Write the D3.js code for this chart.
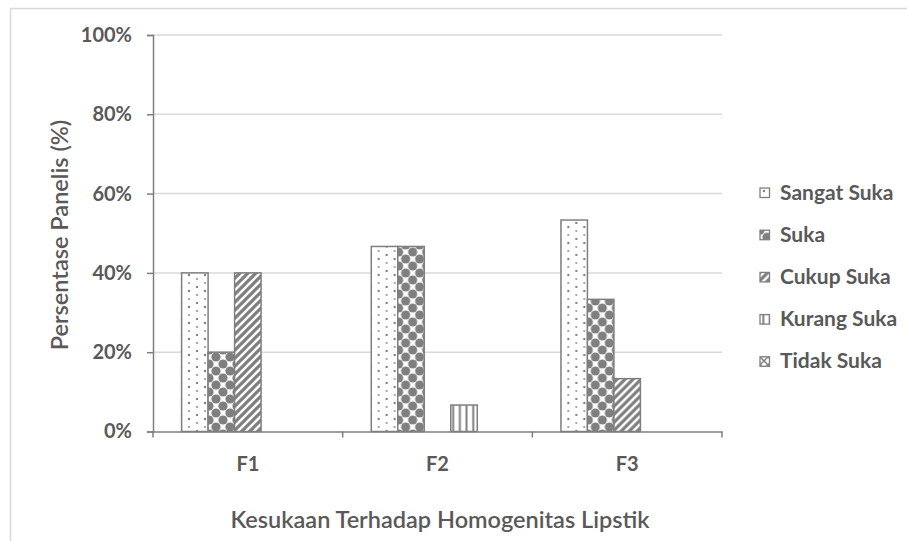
<!DOCTYPE html>
<html>
<head>
<meta charset="utf-8">
<script src="https://cdn.jsdelivr.net/npm/d3@7"></script>
<style>
  html, body { margin: 0; padding: 0; background: #fff; }
  text { font-family: Lato, "Open Sans", sans-serif; font-weight: bold; fill: #595959; }
</style>
</head>
<body>
<svg id="chart" width="907" height="541"></svg>
<script>
const categories = ["F1", "F2", "F3"];
const seriesNames = ["Sangat Suka", "Suka", "Cukup Suka", "Kurang Suka", "Tidak Suka"];
const sangatSuka = [40, 46.67, 53.33];
const suka = [20, 46.67, 33.33];
const cukupSuka = [40, 0, 13.33];
const kurangSuka = [0, 6.67, 0];
const tidakSuka = [0, 0, 0];
const yTicks = [0, 20, 40, 60, 80, 100];
const xTitle = "Kesukaan Terhadap Homogenitas Lipstik";
const yTitle = "Persentase Panelis (%)";

const seriesValues = [sangatSuka, suka, cukupSuka, kurangSuka, tidakSuka];
const grey = "#7f7f7f";

const svg = d3.select("#chart");
const defs = svg.append("defs");

// Patterns
const p0 = defs.append("pattern").attr("id", "pat0").attr("patternUnits", "userSpaceOnUse")
  .attr("width", 16).attr("height", 16);
p0.append("rect").attr("width", 16).attr("height", 16).attr("fill", "#fff");
[[4, 3, 1.2], [12, 7, 0.9], [4, 11, 0.9], [12, 15, 1.2]].forEach(d =>
  p0.append("circle").attr("cx", d[0]).attr("cy", d[1]).attr("r", d[2]).attr("fill", grey));

const p1 = defs.append("pattern").attr("id", "pat1").attr("patternUnits", "userSpaceOnUse")
  .attr("width", 14).attr("height", 14);
p1.append("rect").attr("width", 14).attr("height", 14).attr("fill", "#fff");
[[0, 0], [14, 0], [0, 14], [14, 14], [7, 7]].forEach(d =>
  p1.append("circle").attr("cx", d[0]).attr("cy", d[1]).attr("r", 4.6).attr("fill", grey));

const p2 = defs.append("pattern").attr("id", "pat2").attr("patternUnits", "userSpaceOnUse")
  .attr("width", 8).attr("height", 8);
p2.append("rect").attr("width", 8).attr("height", 8).attr("fill", "#fff");
p2.append("path").attr("d", "M-2,10 L10,-2 M-2,2 L2,-2 M6,10 L10,6")
  .attr("stroke", grey).attr("stroke-width", 3.2);

const p3 = defs.append("pattern").attr("id", "pat3").attr("patternUnits", "userSpaceOnUse")
  .attr("width", 6.7).attr("height", 8);
p3.append("rect").attr("width", 6.7).attr("height", 8).attr("fill", "#fff");
p3.append("rect").attr("x", 2.3).attr("width", 2).attr("height", 8).attr("fill", grey);

const p4 = defs.append("pattern").attr("id", "pat4").attr("patternUnits", "userSpaceOnUse")
  .attr("width", 8).attr("height", 8);
p4.append("rect").attr("width", 8).attr("height", 8).attr("fill", "#fff");
p4.append("path").attr("d", "M0,0 L8,8 M8,0 L0,8").attr("stroke", grey).attr("stroke-width", 1.5);

const patIds = ["pat0", "pat1", "pat2", "pat3", "pat4"];

// Outer frame (top and left edges)
svg.append("path").attr("d", "M10.5,541 L10.5,8.5 L907,8.5")
  .attr("fill", "none").attr("stroke", "#d9d9d9").attr("stroke-width", 1.5);

const plot = { left: 153, right: 722, top: 35, bottom: 431.5 };

const x0 = d3.scaleBand().domain(categories).range([plot.left, plot.right]).paddingInner(0).paddingOuter(0);
const x1 = d3.scaleBand().domain(seriesNames).range([0, x0.bandwidth()]).paddingInner(0).paddingOuter(1.08);
const y = d3.scaleLinear().domain([0, 100]).range([plot.bottom, plot.top]);

// Gridlines
svg.append("g").selectAll("line").data(yTicks.filter(t => t > 0)).join("line")
  .attr("x1", plot.left).attr("x2", plot.right)
  .attr("y1", d => y(d)).attr("y2", d => y(d))
  .attr("stroke", "#d9d9d9").attr("stroke-width", 1.5);

// Bars
const groups = svg.append("g").selectAll("g").data(categories).join("g")
  .attr("transform", d => `translate(${x0(d)},0)`);
groups.selectAll("rect")
  .data((c, ci) => seriesNames.map((s, si) => ({ s, si, v: seriesValues[si][ci] })).filter(d => d.v > 0))
  .join("rect")
  .attr("x", d => x1(d.s))
  .attr("width", x1.bandwidth())
  .attr("y", d => y(d.v))
  .attr("height", d => y(0) - y(d.v))
  .attr("fill", d => `url(#${patIds[d.si]})`)
  .attr("stroke", grey).attr("stroke-width", 1.5);

// Y axis
const yAxis = svg.append("g").attr("transform", `translate(${plot.left},0)`)
  .call(d3.axisLeft(y).tickValues(yTicks).tickSize(6).tickPadding(15).tickFormat(d => d + "%"));
yAxis.select(".domain").attr("stroke", grey).attr("stroke-width", 1.5);
yAxis.selectAll(".tick line").attr("stroke", grey).attr("stroke-width", 1.5);
yAxis.selectAll(".tick text").style("font-size", "20px").style("font-family", "Lato").attr("fill", "#595959");

// X axis
const xAxis = svg.append("g").attr("transform", `translate(0,${plot.bottom})`)
  .call(d3.axisBottom(x0).tickSize(0).tickPadding(25));
xAxis.select(".domain").attr("stroke", grey).attr("stroke-width", 1.5);
xAxis.selectAll(".tick text").style("font-size", "20px").style("font-family", "Lato").attr("fill", "#595959");
// category boundary ticks
const bounds = categories.map(c => x0(c)).concat([x0(categories[categories.length - 1]) + x0.bandwidth()]);
xAxis.append("g").selectAll("line").data(bounds).join("line")
  .attr("x1", d => d).attr("x2", d => d).attr("y1", 0).attr("y2", 6)
  .attr("stroke", grey).attr("stroke-width", 1.5);

// Axis titles
svg.append("text").attr("x", 440).attr("y", 528).attr("text-anchor", "middle")
  .style("font-size", "23.5px").style("font-weight", "600").text(xTitle);
svg.append("text").attr("transform", "translate(68,235) rotate(-90)").attr("text-anchor", "middle")
  .style("font-size", "23.5px").style("font-weight", "600").text(yTitle);

// Legend
const legend = svg.append("g").selectAll("g").data(seriesNames).join("g")
  .attr("transform", (d, i) => `translate(760,${188 + i * 42.2})`);
legend.append("rect").attr("width", 9.5).attr("height", 9.5)
  .attr("fill", (d, i) => `url(#${patIds[i]})`).attr("stroke", grey).attr("stroke-width", 1.3);
legend.append("text").attr("x", 20).attr("y", 11.5).style("font-size", "21px").text(d => d);
</script>
</body>
</html>
